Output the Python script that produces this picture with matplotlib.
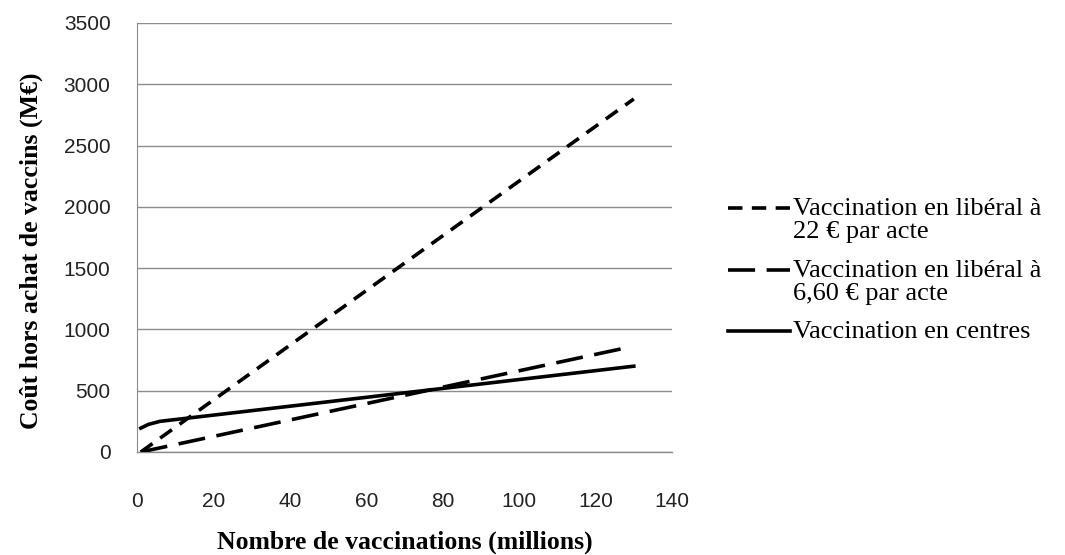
import matplotlib
matplotlib.use("Agg")
import matplotlib.pyplot as plt
from matplotlib.lines import Line2D

# values
lib22_x = [1, 130]
lib22_y = [0, 2880]
lib66_x = [1, 128]
lib66_y = [0, 850]
centres_x = [1, 3, 6, 130]
centres_y = [195, 225, 250, 700]

labels = ["Vaccination en libéral à\n22 € par acte",
          "Vaccination en libéral à\n6,60 € par acte",
          "Vaccination en centres"]
x_ticks = [0, 20, 40, 60, 80, 100, 120, 140]
y_ticks = [0, 500, 1000, 1500, 2000, 2500, 3000, 3500]

SERIF = ["Liberation Serif", "DejaVu Serif"]
SANS = ["Liberation Sans", "DejaVu Sans"]
W, H = 1065, 555

fig = plt.figure(figsize=(10.65, 5.55), dpi=100)
ax = fig.add_axes([0.1286, 0.1856, 0.5024, 0.773])

styles = [dict(dashes=(4, 2.6)), dict(dashes=(7.5, 3.2)), dict(linestyle="-")]
series = [(lib22_x, lib22_y), (lib66_x, lib66_y), (centres_x, centres_y)]
for (xs, ys), st in zip(series, styles):
    ax.plot(xs, ys, color="black", lw=2.6, **st)

ax.set_xlim(0, 140)
ax.set_ylim(0, 3500)
ax.set_xticks(x_ticks)
ax.set_yticks(y_ticks)
ax.yaxis.grid(True, color="#8c8c8c", lw=1)
ax.axhline(0, color="#8c8c8c", lw=1, zorder=0.5, clip_on=False)
ax.set_axisbelow(True)
for s in ["top", "right", "bottom"]:
    ax.spines[s].set_visible(False)
ax.spines["left"].set_color("#8c8c8c")
ax.tick_params(length=0, labelsize=15, colors="#222222")
ax.tick_params(axis="x", pad=29)
ax.tick_params(axis="y", pad=19)
for t in ax.get_xticklabels() + ax.get_yticklabels():
    t.set_family(SANS)

ax.set_xlabel("Nombre de vaccinations (millions)", family=SERIF,
              fontsize=18.5, weight="bold", labelpad=14)
ax.set_ylabel("Coût hors achat de vaccins (M€)", family=SERIF,
              fontsize=18.5, weight="bold")
ax.yaxis.set_label_coords(-0.175, 0.47)

# legend, drawn by hand so the key sits on the first text line as in the reference
leg_y = [208, 270, 331]
for (lab, st, y) in zip(labels, styles, leg_y):
    yf = 1 - y / H
    fig.add_artist(Line2D([728 / W, 790 / W], [yf, yf], color="black",
                          lw=2.6, **st))
    fig.text(793 / W, 1 - (y - 10) / H, lab, family=SERIF, fontsize=19,
             va="top", linespacing=1.05)

fig.savefig("out.png", dpi=100, facecolor="white")
